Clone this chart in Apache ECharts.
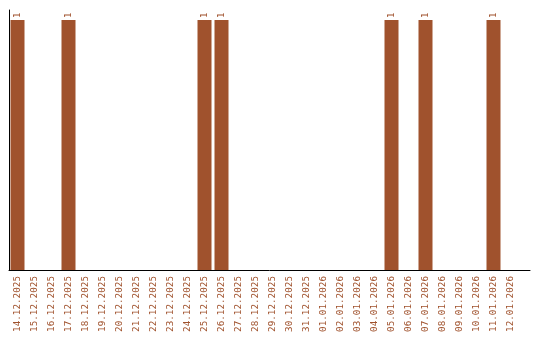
<!DOCTYPE html>
<html><head><meta charset="utf-8">
<script src="https://cdn.jsdelivr.net/npm/echarts@6/dist/echarts.min.js"></script>
<style>html,body{margin:0;padding:0;background:#fff}#c{width:540px;height:340px}</style>
</head><body><div id="c"></div>
<script>
var categories = ["14.12.2025","15.12.2025","16.12.2025","17.12.2025","18.12.2025","19.12.2025","20.12.2025","21.12.2025","22.12.2025","23.12.2025","24.12.2025","25.12.2025","26.12.2025","27.12.2025","28.12.2025","29.12.2025","30.12.2025","31.12.2025","01.01.2026","02.01.2026","03.01.2026","04.01.2026","05.01.2026","06.01.2026","07.01.2026","08.01.2026","09.01.2026","10.01.2026","11.01.2026","12.01.2026"];
var values = [1,null,null,1,null,null,null,null,null,null,null,1,1,null,null,null,null,null,null,null,null,null,1,null,1,null,null,null,1,null];
var color = '#a0522d';
var chart = echarts.init(document.getElementById('c'), null, {renderer:'canvas'});
chart.setOption({
  animation:false,
  grid:[{left:9, right:21, top:10, bottom:70, containLabel:false},
        {left:9, right:10, top:10, bottom:70, containLabel:false}],
  xAxis:[{type:'category', data:categories, gridIndex:0,
    axisLine:{show:false}, axisTick:{show:false},
    axisLabel:{rotate:90, interval:0, color:color, fontFamily:'DejaVu Sans Mono', fontSize:9.3, margin:6}},
    {type:'value', gridIndex:1, min:0, max:1, axisLine:{show:true, onZero:false, lineStyle:{color:'#000', width:1}},
     axisTick:{show:false}, axisLabel:{show:false}, splitLine:{show:false}}],
  yAxis:[{type:'value', gridIndex:0, min:0, max:1.04, axisLine:{show:true, lineStyle:{color:'#000'}}, axisTick:{show:false}, axisLabel:{show:false}, splitLine:{show:false}},
         {type:'value', gridIndex:1, min:0, max:1, axisLine:{show:false}, axisTick:{show:false}, axisLabel:{show:false}, splitLine:{show:false}}],
  series:[{type:'bar', xAxisIndex:0, yAxisIndex:0, data:values, barWidth:14, itemStyle:{color:color},
    label:{show:true, position:'top', rotate:90, align:'left', verticalAlign:'middle', distance:2, color:color, fontFamily:'DejaVu Sans Mono', fontSize:9}}]
});
</script></body></html>
